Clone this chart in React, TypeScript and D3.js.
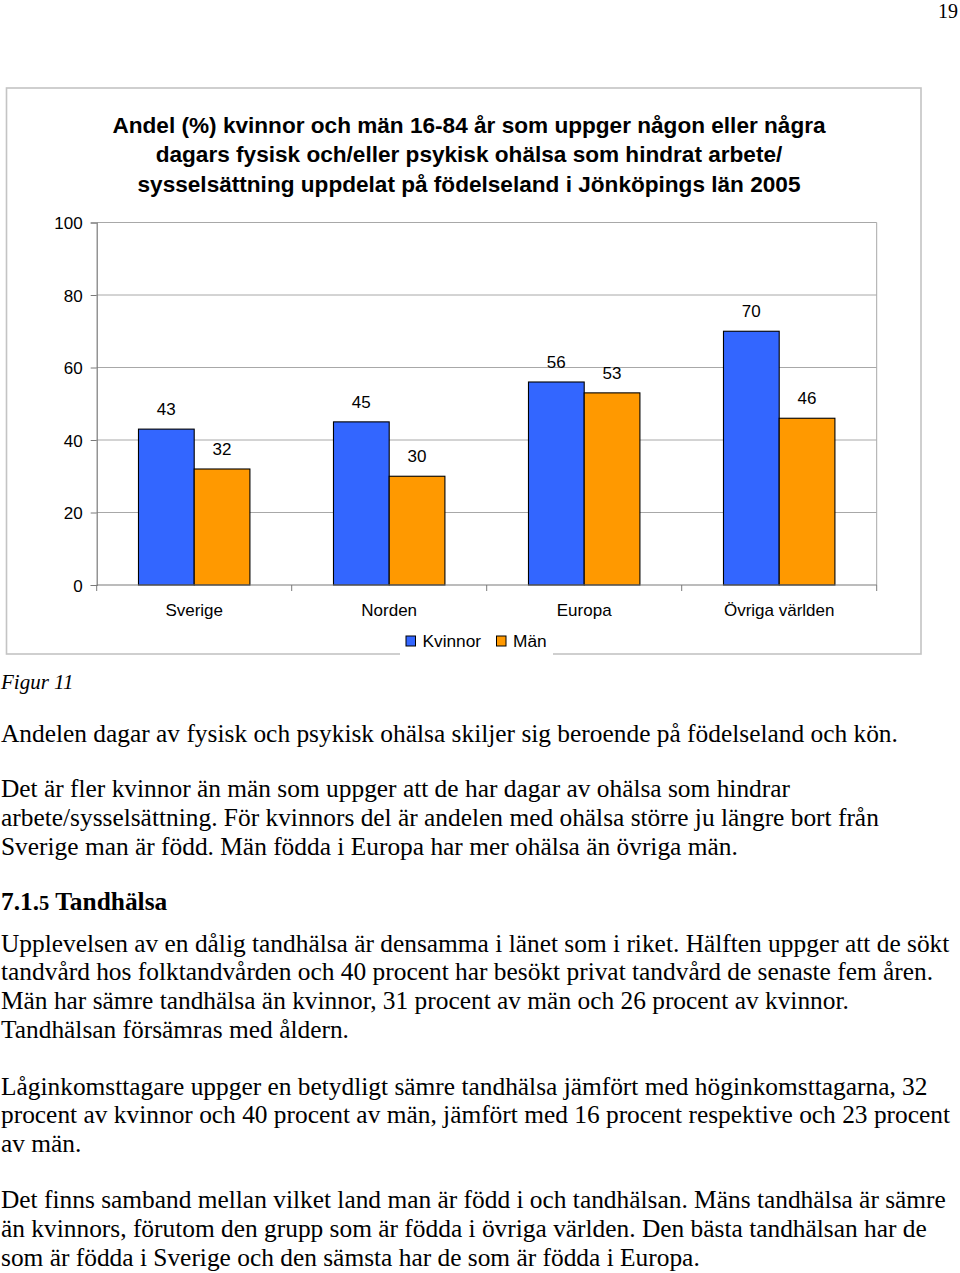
import React, { useEffect, useRef } from "react";
import * as d3 from "d3";

const categories = ["Sverige", "Norden", "Europa", "Övriga världen"];
const seriesNames = ["Kvinnor", "Män"];
const kvinnor = [43, 45, 56, 70];
const man = [32, 30, 53, 46];
const yTicks = [0, 20, 40, 60, 80, 100];
const seriesColors = ["#3366FF", "#FF9900"];

const titleLines = [
  "Andel (%) kvinnor och män 16-84 år som uppger någon eller några",
  "dagars fysisk och/eller psykisk ohälsa som hindrat arbete/",
  "sysselsättning uppdelat på födelseland i Jönköpings län 2005",
];

const para1 = ["Andelen dagar av fysisk och psykisk ohälsa skiljer sig beroende på födelseland och kön."];
const para2 = [
  "Det är fler kvinnor än män som uppger att de har dagar av ohälsa som hindrar",
  "arbete/sysselsättning. För kvinnors del är andelen med ohälsa större ju längre bort från",
  "Sverige man är född. Män födda i Europa har mer ohälsa än övriga män.",
];
const para3 = [
  "Upplevelsen av en dålig tandhälsa är densamma i länet som i riket. Hälften uppger att de sökt",
  "tandvård hos folktandvården och 40 procent har besökt privat tandvård de senaste fem åren.",
  "Män har sämre tandhälsa än kvinnor, 31 procent av män och 26 procent av kvinnor.",
  "Tandhälsan försämras med åldern.",
];
const para4 = [
  "Låginkomsttagare uppger en betydligt sämre tandhälsa jämfört med höginkomsttagarna, 32",
  "procent av kvinnor och 40 procent av män, jämfört med 16 procent respektive och 23 procent",
  "av män.",
];
const para5 = [
  "Det finns samband mellan vilket land man är född i och tandhälsan. Mäns tandhälsa är sämre",
  "än kvinnors, förutom den grupp som är födda i övriga världen. Den bästa tandhälsan har de",
  "som är födda i Sverige och den sämsta har de som är födda i Europa.",
];

export default function App() {
  const ref = useRef<SVGSVGElement>(null);

  useEffect(() => {
    document.body.style.margin = "0";
    const svg = d3.select(ref.current);
    svg.selectAll("*").remove();

    const sans = "'Liberation Sans', Arial, sans-serif";
    const serif = "'Liberation Serif', 'Times New Roman', serif";

    // page number
    svg.append("text").attr("x", 958).attr("y", 18).attr("text-anchor", "end")
      .attr("font-family", serif).attr("font-size", 20).text("19");

    // chart frame
    svg.append("rect").attr("x", 6.5).attr("y", 88).attr("width", 914.5).attr("height", 566)
      .attr("fill", "#fff").attr("stroke", "#c4c4c4").attr("stroke-width", 1.6);

    // title
    svg.append("g").selectAll("text").data(titleLines).join("text")
      .attr("x", 469).attr("y", (_d, i) => 132.5 + i * 29.7)
      .attr("text-anchor", "middle").attr("font-family", sans).attr("font-weight", "bold")
      .attr("font-size", 22.6).attr("fill", "#000").text((d) => d);

    const left = 96.7, right = 876.7, top = 222.5, bottom = 585;
    const y = d3.scaleLinear().domain([0, 100]).range([bottom, top]);
    const x0 = d3.scaleBand().domain(categories).range([left, right]).padding(0);
    const x1 = d3.scaleBand().domain(seriesNames).range([0, x0.bandwidth()]).paddingInner(0).paddingOuter(0.75);

    const g = svg.append("g");
    // gridlines
    g.selectAll("line.grid").data(yTicks.filter((t) => t > 0)).join("line")
      .attr("x1", left).attr("x2", right).attr("y1", (d) => y(d)).attr("y2", (d) => y(d))
      .attr("stroke", "#a8a8a8").attr("stroke-width", 1);
    // right border
    g.append("line").attr("x1", right).attr("x2", right).attr("y1", top).attr("y2", bottom)
      .attr("stroke", "#a8a8a8").attr("stroke-width", 1);

    // y axis
    const yAxis = d3.axisLeft(y).tickValues(yTicks).tickSize(6).tickPadding(8);
    const ya = g.append("g").attr("transform", `translate(${left},0)`).call(yAxis);
    ya.select(".domain").attr("stroke", "#7a7a7a").attr("stroke-width", 1.2);
    ya.selectAll(".tick line").attr("stroke", "#7a7a7a");
    ya.selectAll(".tick text").attr("font-family", sans).attr("font-size", 17).attr("fill", "#000")
      .attr("dy", "0.36em");

    // bars
    const data = categories.map((c, i) => ({ c, vals: [kvinnor[i], man[i]] }));
    const groups = g.selectAll("g.grp").data(data).join("g")
      .attr("transform", (d) => `translate(${x0(d.c)},0)`);
    groups.selectAll("rect").data((d) => d.vals.map((v, j) => ({ v, s: seriesNames[j], j }))).join("rect")
      .attr("x", (d) => x1(d.s)!).attr("width", x1.bandwidth())
      .attr("y", (d) => y(d.v)).attr("height", (d) => y(0) - y(d.v))
      .attr("fill", (d) => seriesColors[d.j]).attr("stroke", "#000").attr("stroke-width", 1.1);
    groups.selectAll("text").data((d) => d.vals.map((v, j) => ({ v, s: seriesNames[j] }))).join("text")
      .attr("x", (d) => x1(d.s)! + x1.bandwidth() / 2).attr("y", (d) => y(d.v) - 13.8)
      .attr("text-anchor", "middle").attr("font-family", sans).attr("font-size", 17).attr("fill", "#000")
      .text((d) => String(d.v));

    // x axis
    g.append("line").attr("x1", left).attr("x2", right).attr("y1", bottom).attr("y2", bottom)
      .attr("stroke", "#7a7a7a").attr("stroke-width", 1.2);
    const bounds = [...categories.map((c) => x0(c)!), right];
    g.selectAll("line.xt").data(bounds).join("line")
      .attr("x1", (d) => d).attr("x2", (d) => d).attr("y1", bottom).attr("y2", bottom + 6)
      .attr("stroke", "#7a7a7a");
    g.selectAll("text.cat").data(categories).join("text")
      .attr("x", (d) => x0(d)! + x0.bandwidth() / 2).attr("y", 616)
      .attr("text-anchor", "middle").attr("font-family", sans).attr("font-size", 17).attr("fill", "#000")
      .text((d) => d);

    // legend
    const lg = svg.append("g");
    lg.append("rect").attr("x", 400).attr("y", 626).attr("width", 153).attr("height", 30).attr("fill", "#fff");
    const legendX = [406, 496.5];
    seriesNames.forEach((s, i) => {
      lg.append("rect").attr("x", legendX[i]).attr("y", 636).attr("width", 9.5).attr("height", 10)
        .attr("fill", seriesColors[i]).attr("stroke", "#000").attr("stroke-width", 1);
      lg.append("text").attr("x", legendX[i] + 16.5).attr("y", 646.5)
        .attr("font-family", sans).attr("font-size", 17.3).attr("fill", "#000").text(s);
    });

    // caption
    svg.append("text").attr("x", 1).attr("y", 688.5).attr("font-family", serif)
      .attr("font-style", "italic").attr("font-size", 21).text("Figur 11");

    const body = svg.append("g").attr("font-family", serif).attr("font-size", 25.4).attr("fill", "#000");
    const addPara = (lines: string[], y0: number) => {
      lines.forEach((l, i) => {
        body.append("text").attr("x", 1).attr("y", y0 + i * 28.9).text(l);
      });
    };
    addPara(para1, 742);
    addPara(para2, 797);
    const h = body.append("text").attr("x", 1).attr("y", 909.5).attr("font-weight", "bold");
    h.append("tspan").text("7.1.");
    h.append("tspan").attr("font-size", 20.5).text("5");
    h.append("tspan").text(" Tandhälsa");
    addPara(para3, 951.5);
    addPara(para4, 1094.5);
    addPara(para5, 1208);
  }, []);

  return <svg ref={ref} width={960} height={1273} style={{ display: "block" }} />;
}
